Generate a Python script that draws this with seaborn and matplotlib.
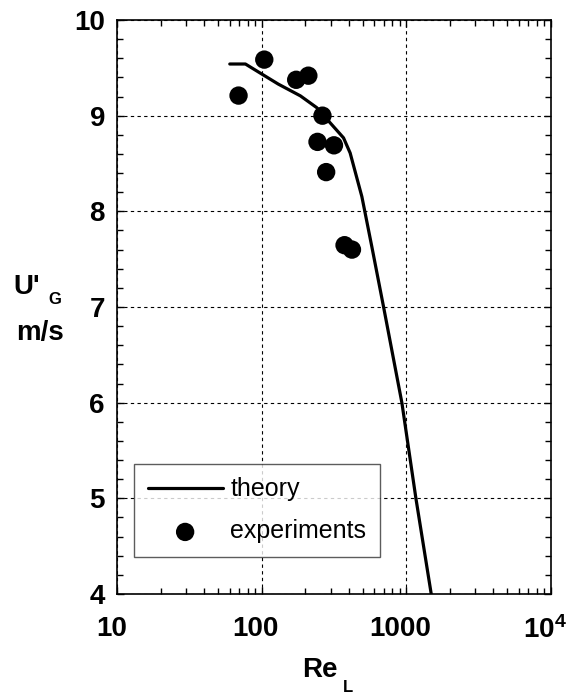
import matplotlib
matplotlib.use("Agg")
import matplotlib.pyplot as plt
import matplotlib.transforms as mtransforms
import seaborn as sns
import pandas as pd
from matplotlib.ticker import LogLocator, FixedLocator, MultipleLocator, NullFormatter

# data
theory_re = [60, 77, 100, 130, 185, 240, 297, 368, 409, 493, 578, 697, 933, 1167, 1490]
theory_u = [9.54, 9.54, 9.435, 9.33, 9.207, 9.084, 8.926, 8.768, 8.61, 8.154, 7.63, 7.0, 6.0, 5.0, 4.0]
exp_re = [69, 104, 173, 210, 263, 243, 316, 279, 374, 421]
exp_u = [9.21, 9.586, 9.375, 9.418, 9.0, 8.726, 8.69, 8.41, 7.646, 7.60]
x_ticks = [10, 100, 1000, 10000]
x_ticklabels = ["10", "100", "1000", r"10$^{4}$"]
y_ticks = [4, 5, 6, 7, 8, 9, 10]

sns.set_style("ticks")
plt.rcParams["font.family"] = ["Liberation Sans", "DejaVu Sans"]
plt.rcParams["mathtext.fontset"] = "custom"
plt.rcParams["mathtext.rm"] = "Liberation Sans:bold"
plt.rcParams["mathtext.it"] = "Liberation Sans:bold"
plt.rcParams["mathtext.bf"] = "Liberation Sans:bold"
for k in ["text.color", "axes.labelcolor", "xtick.color", "ytick.color", "axes.edgecolor"]:
    plt.rcParams[k] = "black"

fig = plt.figure(figsize=(5.81, 6.97), dpi=100)
ax = fig.add_axes([0.2021, 0.1478, 0.9477 - 0.2021, 0.9713 - 0.1478])

df_t = pd.DataFrame({"Re": theory_re, "U": theory_u})
df_e = pd.DataFrame({"Re": exp_re, "U": exp_u})

sns.lineplot(data=df_t, x="Re", y="U", sort=False, color="black", lw=2.3,
             ax=ax, label="theory", zorder=3)
sns.scatterplot(data=df_e, x="Re", y="U", color="black", s=175, edgecolor="none",
                ax=ax, label="experiments", zorder=4)

ax.set_xscale("log")
ax.set_xlim(10, 10000)
ax.set_ylim(4, 10)
ax.xaxis.set_major_locator(FixedLocator(x_ticks))
ax.set_xticklabels(x_ticklabels)
ax.xaxis.set_minor_locator(LogLocator(base=10, subs=range(2, 10)))
ax.xaxis.set_minor_formatter(NullFormatter())
ax.yaxis.set_major_locator(FixedLocator(y_ticks))
ax.yaxis.set_minor_locator(MultipleLocator(0.2))

ax.grid(True, which="major", color="black", linestyle=(0, (3, 3)), linewidth=0.8)
ax.tick_params(which="both", direction="in", top=True, right=True, colors="black", width=1)
ax.tick_params(which="major", length=5, labelsize=20)
ax.tick_params(axis="x", which="major", pad=16)
ax.tick_params(axis="y", which="major", pad=9)
ax.tick_params(which="minor", length=4.5)
shift = mtransforms.ScaledTranslation(-6 / 100, 0, fig.dpi_scale_trans)
for lbl in ax.get_xticklabels():
    lbl.set_fontweight("bold")
    lbl.set_transform(lbl.get_transform() + shift)
for lbl in ax.get_yticklabels():
    lbl.set_fontweight("bold")
for s in ax.spines.values():
    s.set_color("black")
    s.set_linewidth(1.2)

ax.set_xlabel("")
ax.set_ylabel("")

leg = ax.legend(loc="lower left", bbox_to_anchor=(0.038, 0.064), borderaxespad=0,
                fontsize=18, frameon=True, fancybox=False, handlelength=3.0,
                handletextpad=0.3, labelspacing=0.72, borderpad=0.55, markerscale=1.0)
leg.get_frame().set_edgecolor("#333333")
leg.get_frame().set_linewidth(1.0)
for t in leg.get_texts():
    t.set_color("black")

# axis labels
fig.text(27 / 581, 1 - 287 / 697, "U'", fontsize=20, fontweight="bold", ha="center", va="center")
fig.text(55 / 581, 1 - 300 / 697, "G", fontsize=12, fontweight="bold", ha="center", va="center")
fig.text(40 / 581, 1 - 333 / 697, "m/s", fontsize=20, fontweight="bold", ha="center", va="center")
fig.text(320 / 581, 1 - 670 / 697, "Re", fontsize=20, fontweight="bold", ha="center", va="center")
fig.text(348 / 581, 1 - 687 / 697, "L", fontsize=12, fontweight="bold", ha="center", va="center")

fig.savefig("out.png", dpi=100)
